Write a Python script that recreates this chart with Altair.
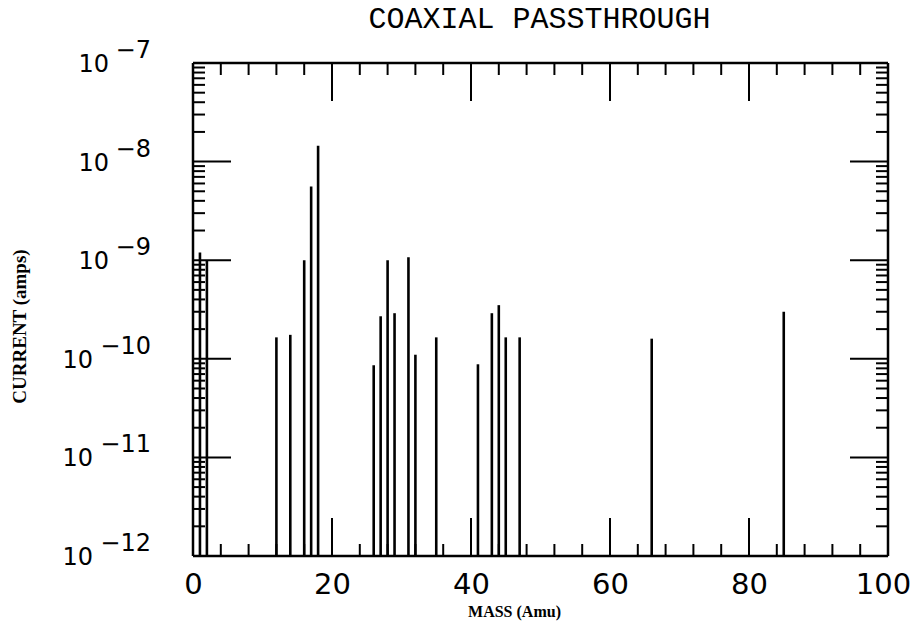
import altair as alt
import pandas as pd

# ---- data ----
mass = [1, 2, 12, 14, 16, 17, 18, 26, 27, 28, 29, 31, 32, 35, 41, 43, 44, 45, 47, 66, 85]
current = [1.2e-9, 1.0e-9, 1.65e-10, 1.75e-10, 1.0e-9, 5.6e-9, 1.45e-8, 8.6e-11, 2.7e-10,
           1.0e-9, 2.9e-10, 1.07e-9, 1.1e-10, 1.65e-10, 8.8e-11, 2.9e-10, 3.5e-10,
           1.65e-10, 1.65e-10, 1.6e-10, 3.0e-10]

x_labels = [0, 20, 40, 60, 80, 100]
x_major = [20, 40, 60, 80]
x_minor = [4, 8, 12, 16, 24, 28, 32, 36, 44, 48, 52, 56, 64, 68, 72, 76, 84, 88, 92, 96]
decades = [-12, -11, -10, -9, -8, -7]
y_major = [1e-11, 1e-10, 1e-9, 1e-8]
y_minor = [m * 10.0 ** e for e in [-12, -11, -10, -9, -8] for m in range(2, 10)]
title_text = ["COAXIAL PASSTHROUGH"]

W, H = 695, 493
MAJ, MIN = 38, 12
LABEL_FONT = "DejaVu Sans"

xs = alt.Scale(domain=[0, 100], nice=False, zero=False)
ys = alt.Scale(type="log", domain=[1e-12, 1e-7], nice=False)

x_axis = alt.Axis(values=x_labels, ticks=False, domain=False, grid=False,
                  labelFont=LABEL_FONT, labelFontSize=29, labelColor="black",
                  labelPadding=14, labelFlush=False,
                  labelOffset={"condition": {"test": "datum.value == 100", "value": -5}, "value": 0},
                  title="MASS (Amu)", titleFont="Liberation Serif", titleFontWeight="bold",
                  titleFontSize=16, titleColor="black", titleX=321, titleY=55,
                  titleAlign="center", titleBaseline="middle")
y_axis = alt.Axis(labels=False, ticks=False, domain=False, grid=False,
                  title="CURRENT (amps)", titleFont="Liberation Serif", titleFontWeight="bold",
                  titleFontSize=19, titleColor="black", titleX=-174, titleY=263,
                  titleAngle=-90, titleAlign="center", titleBaseline="middle")

X = alt.X("x:Q", scale=xs, axis=x_axis)
Y = alt.Y("y:Q", scale=ys, axis=y_axis)

spikes = alt.Chart(pd.DataFrame({"x": mass, "y": current})).mark_rule(
    color="black", strokeWidth=2.6
).encode(x=X, y=Y, y2=alt.datum(1e-12))

ymaj = pd.DataFrame({"y": y_major})
ymin = pd.DataFrame({"y": y_minor})
xmaj = pd.DataFrame({"x": x_major})
xmin = pd.DataFrame({"x": x_minor})

tick_style = dict(color="black", strokeWidth=2)

ticks = [
    alt.Chart(ymaj).mark_rule(**tick_style).encode(y=Y, x=alt.value(0), x2=alt.value(MAJ)),
    alt.Chart(ymaj).mark_rule(**tick_style).encode(y=Y, x=alt.value(W - MAJ), x2=alt.value(W)),
    alt.Chart(ymin).mark_rule(**tick_style).encode(y=Y, x=alt.value(0), x2=alt.value(MIN)),
    alt.Chart(ymin).mark_rule(**tick_style).encode(y=Y, x=alt.value(W - MIN), x2=alt.value(W)),
    alt.Chart(xmaj).mark_rule(**tick_style).encode(x=X, y=alt.value(H), y2=alt.value(H - MAJ)),
    alt.Chart(xmaj).mark_rule(**tick_style).encode(x=X, y=alt.value(0), y2=alt.value(MAJ)),
    alt.Chart(xmin).mark_rule(**tick_style).encode(x=X, y=alt.value(H), y2=alt.value(H - MIN)),
    alt.Chart(xmin).mark_rule(**tick_style).encode(x=X, y=alt.value(0), y2=alt.value(MIN)),
]

frame_style = dict(color="black", strokeWidth=2.5)
one = pd.DataFrame({"k": [0]})
frame = [
    alt.Chart(one).mark_rule(**frame_style).encode(x=alt.value(0), x2=alt.value(W), y=alt.value(0)),
    alt.Chart(one).mark_rule(**frame_style).encode(x=alt.value(0), x2=alt.value(W), y=alt.value(H)),
    alt.Chart(one).mark_rule(**frame_style).encode(y=alt.value(0), y2=alt.value(H), x=alt.value(0)),
    alt.Chart(one).mark_rule(**frame_style).encode(y=alt.value(0), y2=alt.value(H), x=alt.value(W)),
]

lab = pd.DataFrame({
    "y": [10.0 ** e for e in decades],
    "base": ["10"] * len(decades),
    "exp": ["\u2212" + str(abs(e)) for e in decades],
})
lab["n"] = lab["exp"].str.len()

txt = dict(font=LABEL_FONT, fontSize=24, color="black", align="right", baseline="middle")
exp_layer = alt.Chart(lab).mark_text(dy=-12, **txt).encode(y=Y, x=alt.value(-42), text="exp:N")
base1 = alt.Chart(lab).transform_filter("datum.n == 2").mark_text(dy=2, **txt).encode(
    y=Y, x=alt.value(-84), text="base:N")
base2 = alt.Chart(lab).transform_filter("datum.n == 3").mark_text(dy=2, **txt).encode(
    y=Y, x=alt.value(-100), text="base:N")

title = alt.Chart(pd.DataFrame({"t": title_text})).mark_text(
    font="Liberation Mono", fontSize=30, color="black", align="center", baseline="alphabetic"
).encode(text="t:N", x=alt.value(W / 2 - 1), y=alt.value(-35))

chart = alt.layer(spikes, *ticks, *frame, exp_layer, base1, base2, title).properties(
    width=W, height=H,
    autosize=alt.AutoSizeParams(type="none"),
    padding={"left": 185, "top": 55, "right": 23, "bottom": 65},
).configure_view(stroke="black", strokeWidth=2).configure(background="white")

chart.save("out.html", embed_options={"renderer": "svg", "actions": False})
